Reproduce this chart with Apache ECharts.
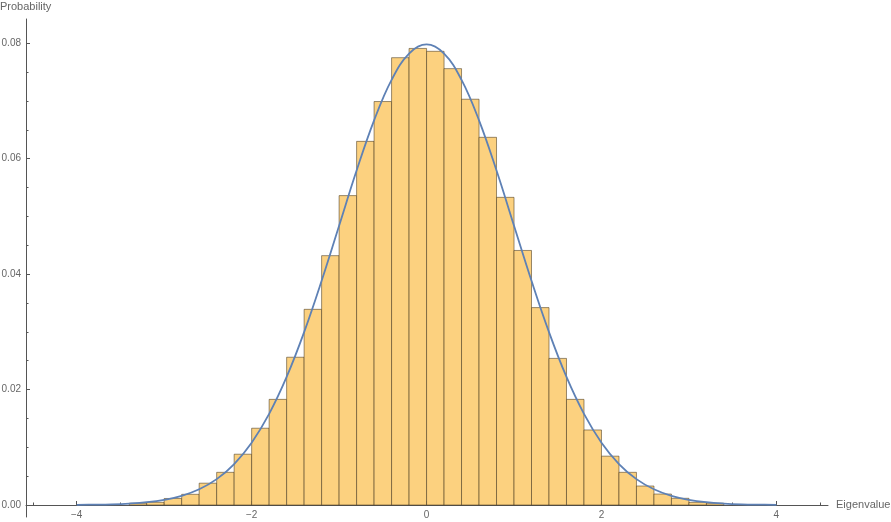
<!DOCTYPE html>
<html>
<head>
<meta charset="utf-8">
<script src="https://cdn.jsdelivr.net/npm/echarts@6/dist/echarts.min.js"></script>
<style>
html,body{margin:0;padding:0;background:#fff;}
#chart{width:891px;height:522px;}
</style>
</head>
<body>
<div id="chart"></div>
<script>
// Histogram bins: left edges, right edges, heights (probability)
var binLeft  = [-3.4,-3.2,-3.0,-2.8,-2.6,-2.4,-2.2,-2.0,-1.8,-1.6,-1.4,-1.2,-1.0,-0.8,-0.6,-0.4,-0.2,0.0,0.2,0.4,0.6,0.8,1.0,1.2,1.4,1.6,1.8,2.0,2.2,2.4,2.6,2.8,3.0,3.2];
var binRight = [-3.2,-3.0,-2.8,-2.6,-2.4,-2.2,-2.0,-1.8,-1.6,-1.4,-1.2,-1.0,-0.8,-0.6,-0.4,-0.2,0.0,0.2,0.4,0.6,0.8,1.0,1.2,1.4,1.6,1.8,2.0,2.2,2.4,2.6,2.8,3.0,3.2,3.4];
var binHeight = [0.0003,0.00046,0.00113,0.00185,0.00378,0.00566,0.0088,0.0133,0.0183,0.0256,0.0339,0.0432,0.0536,0.0630,0.0699,0.0775,0.0791,0.0786,0.0756,0.0703,0.0637,0.0533,0.0441,0.0342,0.0254,0.0183,0.0130,0.00846,0.00566,0.00329,0.0019,0.00116,0.00046,0.0003];

// Fitted curve
var curveX = [-4.0,-3.8,-3.6,-3.4,-3.2,-3.0,-2.8,-2.6,-2.4,-2.2,-2.0,-1.8,-1.6,-1.4,-1.2,-1.0,-0.8,-0.6,-0.4,-0.2,0.0,0.2,0.4,0.6,0.8,1.0,1.2,1.4,1.6,1.8,2.0,2.2,2.4,2.6,2.8,3.0,3.2,3.4,3.6,3.8,4.0];
var curveY = [0.00003,0.00006,0.00012,0.00025,0.00048,0.00089,0.00158,0.00272,0.00448,0.00710,0.01080,0.01579,0.02218,0.02995,0.03884,0.04839,0.05794,0.06664,0.07365,0.07821,0.07979,0.07821,0.07365,0.06664,0.05794,0.04839,0.03884,0.02995,0.02218,0.01579,0.01080,0.00710,0.00448,0.00272,0.00158,0.00089,0.00048,0.00025,0.00012,0.00006,0.00003];

// Tick values
var xMajorTicks = [-4,-2,0,2,4];
var xMinorTicks = [-4.5,-4,-3.5,-3,-2.5,-2,-1.5,-1,-0.5,0,0.5,1,1.5,2,2.5,3,3.5,4,4.5];
var yMajorTicks = [0,0.02,0.04,0.06,0.08];
var yMinorTicks = [0,0.005,0.01,0.015,0.02,0.025,0.03,0.035,0.04,0.045,0.05,0.055,0.06,0.065,0.07,0.075,0.08];

var axisColor = '#555555';
var labelColor = '#666666';
var font = 'Liberation Sans, Arial, sans-serif';

var binData = binLeft.map(function(l, i){ return [l, binRight[i], binHeight[i]]; });
var curveData = curveX.map(function(x, i){ return [x, curveY[i]]; });

var X_MIN = -4.58, X_MAX = 4.59, Y_MIN = 0, Y_MAX = 0.0842, Y_EXT_MIN = -0.0021;

var chart = echarts.init(document.getElementById('chart'), null, {renderer:'canvas'});
chart.setOption({
  animation: false,
  backgroundColor: '#ffffff',
  graphic: [{
    type: 'text', left: 0, top: 1,
    style: { text: 'Probability', fill: labelColor, font: '11px ' + font }
  }],
  grid: [
    { left: 26, right: 63, top: 19, bottom: 17, containLabel: false, outerBoundsMode: 'none' },
    { left: 26, right: 63, top: 19, bottom: 5, containLabel: false, outerBoundsMode: 'none' }
  ],
  xAxis: [{
    gridIndex: 0, type: 'value', min: X_MIN, max: X_MAX,
    name: 'Eigenvalue', nameLocation: 'end', nameGap: 8,
    nameTextStyle: { color: labelColor, fontSize: 11, fontFamily: font, verticalAlign: 'middle' },
    axisLine: { show: true, onZero: false, lineStyle: { color: axisColor, width: 1 } },
    axisTick: { show: true, inside: true, length: 4, customValues: xMajorTicks, lineStyle: { color: axisColor } },
    axisLabel: { show: true, customValues: xMajorTicks, margin: 5, color: labelColor, fontSize: 10, fontFamily: font,
      formatter: function(v){ return String(v).replace('-', '\u2212'); } },
    splitLine: { show: false }
  }, {
    gridIndex: 0, type: 'value', min: X_MIN, max: X_MAX, position: 'bottom',
    axisLine: { show: false, onZero: false },
    axisTick: { show: true, inside: true, length: 2.5, customValues: xMinorTicks, lineStyle: { color: axisColor } },
    axisLabel: { show: false },
    splitLine: { show: false }
  }, {
    gridIndex: 1, type: 'value', min: X_MIN, max: X_MAX, show: false
  }],
  yAxis: [{
    gridIndex: 1, type: 'value', min: Y_EXT_MIN, max: Y_MAX,
    axisLine: { show: true, onZero: false, lineStyle: { color: axisColor, width: 1 } },
    axisTick: { show: true, inside: true, length: 4, customValues: yMajorTicks, lineStyle: { color: axisColor } },
    axisLabel: { show: true, customValues: yMajorTicks, margin: 5, color: labelColor, fontSize: 10, fontFamily: font,
      formatter: function(v){ return v.toFixed(2); } },
    splitLine: { show: false }
  }, {
    gridIndex: 1, type: 'value', min: Y_EXT_MIN, max: Y_MAX, position: 'left',
    axisLine: { show: false, onZero: false },
    axisTick: { show: true, inside: true, length: 2.5, customValues: yMinorTicks, lineStyle: { color: axisColor } },
    axisLabel: { show: false },
    splitLine: { show: false }
  }, {
    gridIndex: 0, type: 'value', min: Y_MIN, max: Y_MAX, show: false
  }],
  series: [{
    type: 'custom',
    xAxisIndex: 0, yAxisIndex: 2,
    data: binData,
    encode: { x: [0, 1], y: 2 },
    renderItem: function(params, api){
      var p0 = api.coord([api.value(0), api.value(2)]);
      var p1 = api.coord([api.value(1), 0]);
      return {
        type: 'rect',
        shape: { x: p0[0], y: p0[1], width: p1[0] - p0[0], height: p1[1] - p0[1] },
        style: { fill: '#FCD17F', stroke: 'rgba(70,55,30,0.55)', lineWidth: 1 }
      };
    },
    z: 2
  }, {
    type: 'line',
    xAxisIndex: 0, yAxisIndex: 2,
    data: curveData,
    smooth: 0.4,
    showSymbol: false,
    lineStyle: { color: '#5E81B5', width: 1.8 },
    z: 3
  }]
});
</script>
</body>
</html>
